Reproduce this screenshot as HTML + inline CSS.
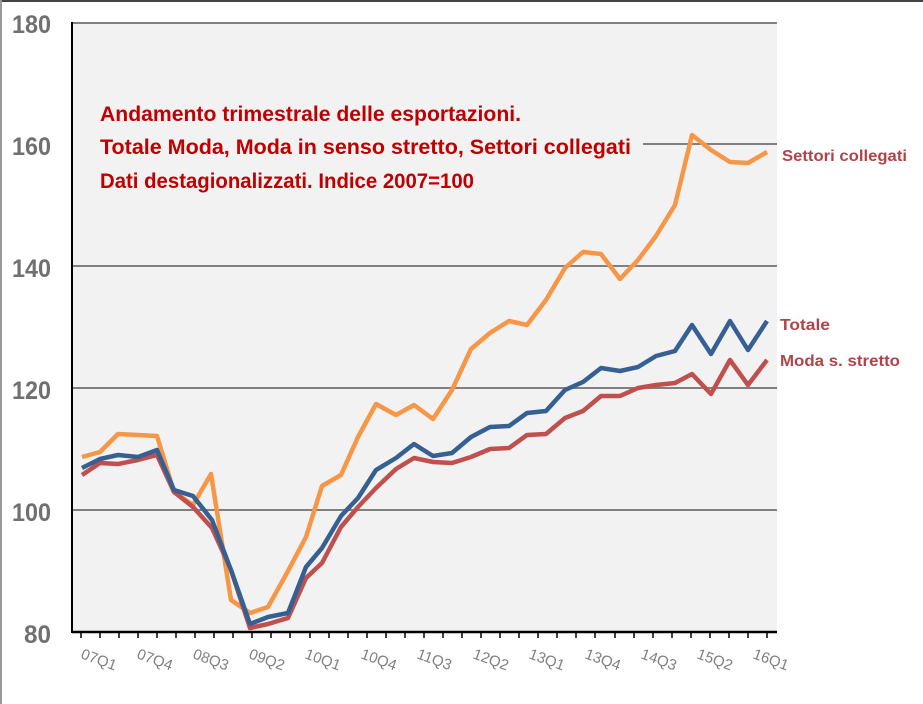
<!DOCTYPE html>
<html><head><meta charset="utf-8"><style>
html,body{margin:0;padding:0;background:#fff;}
svg{display:block;font-family:"Liberation Sans",Arial,sans-serif;}
</style></head><body>
<svg width="923" height="704" viewBox="0 0 923 704" xmlns="http://www.w3.org/2000/svg">
<rect x="0" y="0" width="923" height="704" fill="#fff"/>
<line x1="0" y1="1" x2="923" y2="1" stroke="#444" stroke-width="2"/>
<line x1="1" y1="0" x2="1" y2="704" stroke="#999" stroke-width="2"/>
<rect x="72" y="22" width="705" height="610" fill="#f2f2f2"/>
<g stroke="#808080" stroke-width="2">
<line x1="72" y1="23" x2="777" y2="23"/>
<line x1="643" y1="144" x2="777" y2="144"/>
<line x1="72" y1="266" x2="777" y2="266"/>
<line x1="72" y1="388" x2="777" y2="388"/>
<line x1="72" y1="510" x2="777" y2="510"/>
</g>
<line x1="72" y1="22" x2="72" y2="633" stroke="#000" stroke-width="2"/>
<line x1="72" y1="632" x2="777" y2="632" stroke="#000" stroke-width="2.5"/>
<g font-size="25" font-weight="bold" fill="#707070" text-anchor="end">
<text x="51" y="33" textLength="39" lengthAdjust="spacingAndGlyphs">180</text>
<text x="51" y="155" textLength="39" lengthAdjust="spacingAndGlyphs">160</text>
<text x="51" y="277" textLength="39" lengthAdjust="spacingAndGlyphs">140</text>
<text x="51" y="399" textLength="39" lengthAdjust="spacingAndGlyphs">120</text>
<text x="51" y="521" textLength="39" lengthAdjust="spacingAndGlyphs">100</text>
<text x="51" y="643" textLength="27" lengthAdjust="spacingAndGlyphs">80</text>
</g>
<g font-size="21" font-weight="bold" fill="#c00000">
<text x="100" y="121" textLength="421" lengthAdjust="spacingAndGlyphs">Andamento trimestrale delle esportazioni.</text>
<text x="100" y="154" textLength="531" lengthAdjust="spacingAndGlyphs">Totale Moda, Moda in senso stretto, Settori collegati</text>
<text x="100" y="188" textLength="374" lengthAdjust="spacingAndGlyphs">Dati destagionalizzati.  Indice 2007=100</text>
</g>
<g fill="none" stroke-width="4.5" stroke-linejoin="round">
<polyline stroke="#f79646" points="82,457 100,452 118,434 138,435 157,436 174,492 193,505 211,474 231,600 250,613 268,607 288,571 306,537 322,486 341,475 358,437 376,404 396,415 414,405 433,419 452,390 471,349 490,333 509,321 527,325 546,300 565,268 583,252 601,254 620,279 638,260 656,236 675,205 692,135 711,150 730,162 748,163 767,152"/>
<polyline stroke="#c0504d" points="82,475 100,463 118,464 138,460 157,455 174,492 193,507 212,528 231,570 250,628 268,624 288,618 306,578 322,563 341,527 358,507 376,488 396,469 414,458 433,462 452,463 471,457 490,449 509,448 527,435 546,434 565,418 583,411 601,396 620,396 638,388 656,385 675,383 692,374 711,394 730,360 748,385 767,360"/>
<polyline stroke="#366092" points="82,468 100,459 118,455 138,457 157,450 174,490 193,496 212,520 231,570 250,624 268,617 288,613 306,567 322,548 341,516 358,498 376,470 396,458 414,444 433,456 452,453 471,437 490,427 509,426 527,413 546,411 565,390 583,382 601,368 620,371 638,367 656,356 675,351 692,325 711,354 730,321 748,350 767,321"/>
</g>
<g font-size="16" font-weight="bold" fill="#b0444a">
<text x="782" y="161" textLength="125" lengthAdjust="spacingAndGlyphs">Settori collegati</text>
<text x="780" y="330" textLength="50" lengthAdjust="spacingAndGlyphs">Totale</text>
<text x="780" y="366" textLength="120" lengthAdjust="spacingAndGlyphs">Moda s. stretto</text>
</g>
<g font-size="15" fill="#808080">
<text transform="translate(80,658) rotate(20)">07Q1</text>
<text transform="translate(136,658) rotate(20)">07Q4</text>
<text transform="translate(192,658) rotate(20)">08Q3</text>
<text transform="translate(248,658) rotate(20)">09Q2</text>
<text transform="translate(304,658) rotate(20)">10Q1</text>
<text transform="translate(360,658) rotate(20)">10Q4</text>
<text transform="translate(416,658) rotate(20)">11Q3</text>
<text transform="translate(472,658) rotate(20)">12Q2</text>
<text transform="translate(528,658) rotate(20)">13Q1</text>
<text transform="translate(584,658) rotate(20)">13Q4</text>
<text transform="translate(640,658) rotate(20)">14Q3</text>
<text transform="translate(696,658) rotate(20)">15Q2</text>
<text transform="translate(752,658) rotate(20)">16Q1</text>
</g>
<g stroke="#000" stroke-width="1.5">
<line x1="81" y1="632" x2="81" y2="638"/><line x1="100" y1="632" x2="100" y2="638"/><line x1="119" y1="632" x2="119" y2="638"/><line x1="138" y1="632" x2="138" y2="638"/><line x1="157" y1="632" x2="157" y2="638"/><line x1="176" y1="632" x2="176" y2="638"/><line x1="195" y1="632" x2="195" y2="638"/><line x1="214" y1="632" x2="214" y2="638"/><line x1="233" y1="632" x2="233" y2="638"/><line x1="252" y1="632" x2="252" y2="638"/><line x1="271" y1="632" x2="271" y2="638"/><line x1="290" y1="632" x2="290" y2="638"/><line x1="310" y1="632" x2="310" y2="638"/><line x1="329" y1="632" x2="329" y2="638"/><line x1="348" y1="632" x2="348" y2="638"/><line x1="367" y1="632" x2="367" y2="638"/><line x1="386" y1="632" x2="386" y2="638"/><line x1="405" y1="632" x2="405" y2="638"/><line x1="424" y1="632" x2="424" y2="638"/><line x1="443" y1="632" x2="443" y2="638"/><line x1="462" y1="632" x2="462" y2="638"/><line x1="481" y1="632" x2="481" y2="638"/><line x1="500" y1="632" x2="500" y2="638"/><line x1="519" y1="632" x2="519" y2="638"/><line x1="538" y1="632" x2="538" y2="638"/><line x1="557" y1="632" x2="557" y2="638"/><line x1="576" y1="632" x2="576" y2="638"/><line x1="595" y1="632" x2="595" y2="638"/><line x1="615" y1="632" x2="615" y2="638"/><line x1="634" y1="632" x2="634" y2="638"/><line x1="653" y1="632" x2="653" y2="638"/><line x1="672" y1="632" x2="672" y2="638"/><line x1="691" y1="632" x2="691" y2="638"/><line x1="710" y1="632" x2="710" y2="638"/><line x1="729" y1="632" x2="729" y2="638"/><line x1="748" y1="632" x2="748" y2="638"/><line x1="767" y1="632" x2="767" y2="638"/>
</g>
</svg>
</body></html>
